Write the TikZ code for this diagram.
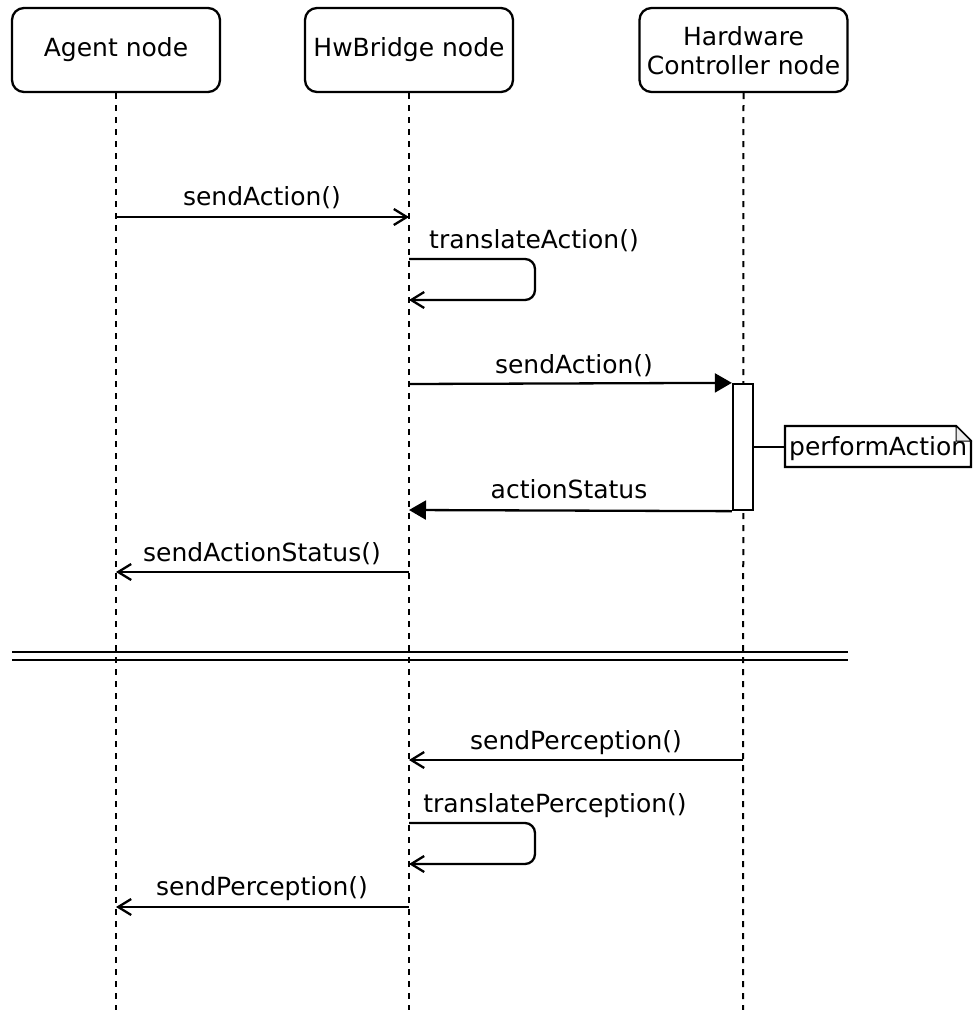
\documentclass[tikz,border=0pt]{standalone}
\usepackage{fontspec}
\setmainfont{DejaVu Sans}
\usetikzlibrary{arrows.meta}
\newcommand\seqfont{\fontsize{25}{29}\selectfont}
\begin{document}
\begin{tikzpicture}[x=1pt,y=-1pt,line width=2.3pt,
  head/.style={draw,rounded corners=12pt,minimum width=208pt,minimum height=84pt,
    align=center,font=\seqfont,inner sep=0pt},
  life/.style={line width=2pt,dash pattern=on 6pt off 6pt},
  msg/.style={-{Straight Barb[length=13pt,width=16pt]}},
  call/.style={-{Triangle[length=17pt,width=19pt]}},
  lbl/.style={font=\seqfont,anchor=base,inner sep=0pt}]
\useasboundingbox (0,0) rectangle (973,1010);

% participants
\node[head] (agent) at (116,50) {\raisebox{-2pt}{Agent node}};
\node[head] (bridge) at (409,50) {\raisebox{-2pt}{HwBridge node}};
\node[head,text depth=0pt] (ctrl) at (743.5,50) {Hardware\\[0pt]Controller node};

% lifelines
\coordinate (agentEnd) at (116,1010);
\coordinate (bridgeEnd) at (409,1010);
\coordinate (ctrlEnd) at (743,1010);
\draw[life] (agent.south) -- (agentEnd);
\draw[life] (bridge.south) -- (bridgeEnd);
\draw[life] (ctrl.south) -- (ctrlEnd);

% activation of the controller
\node[draw,fill=white,minimum width=20pt,minimum height=126pt,inner sep=0pt] (act) at (743,447) {};

% action request
\coordinate (a1) at (116,217); \coordinate (b1) at (409,217);
\draw[msg] (a1) -- (b1);
\node[lbl] (l1) at (262,205) {sendAction()};

\coordinate (b2) at (409,259); \coordinate (b3) at (409,300);
\draw[msg,rounded corners=10pt] (b2) -- (535,259) -- (535,300) -- (b3);
\node[lbl] (l2) at (534,248) {translateAction()};

\coordinate (b4) at (409,384);
\draw[call] (b4) -- (act.north west);
\node[lbl] (l3) at (574,373) {sendAction()};

% note
\coordinate (noteL) at (785,447);
\draw (act.east) -- (noteL);
\draw[fill=white] (785,426) -- (956,426) -- (971,441) -- (971,467) -- (785,467) -- cycle;
\draw[line width=1pt,fill=black!8] (956,426) -- (956,441) -- (971,441) -- cycle;
\node[font=\seqfont,anchor=west,inner sep=0pt] (note) at (788,449) {performAction};

\coordinate (b5) at (409,510);
\draw[call] (act.south west) -- (b5);
\node[lbl] (l4) at (569,498) {actionStatus};

\coordinate (b6) at (409,572); \coordinate (a6) at (116,572);
\draw[msg] (b6) -- (a6);
\node[lbl] (l5) at (262,561) {sendActionStatus()};

% separator
\draw (12,652) -- (848,652);
\draw (12,660) -- (848,660);

% perception
\coordinate (c7) at (743,760); \coordinate (b7) at (409,760);
\draw[msg] (c7) -- (b7);
\node[lbl] (l6) at (576,749) {sendPerception()};

\coordinate (b8) at (409,823); \coordinate (b9) at (409,864);
\draw[msg,rounded corners=10pt] (b8) -- (535,823) -- (535,864) -- (b9);
\node[lbl] (l7) at (555,812) {translatePerception()};

\coordinate (b10) at (409,907); \coordinate (a10) at (116,907);
\draw[msg] (b10) -- (a10);
\node[lbl] (l8) at (262,895) {sendPerception()};
\end{tikzpicture}
\end{document}
